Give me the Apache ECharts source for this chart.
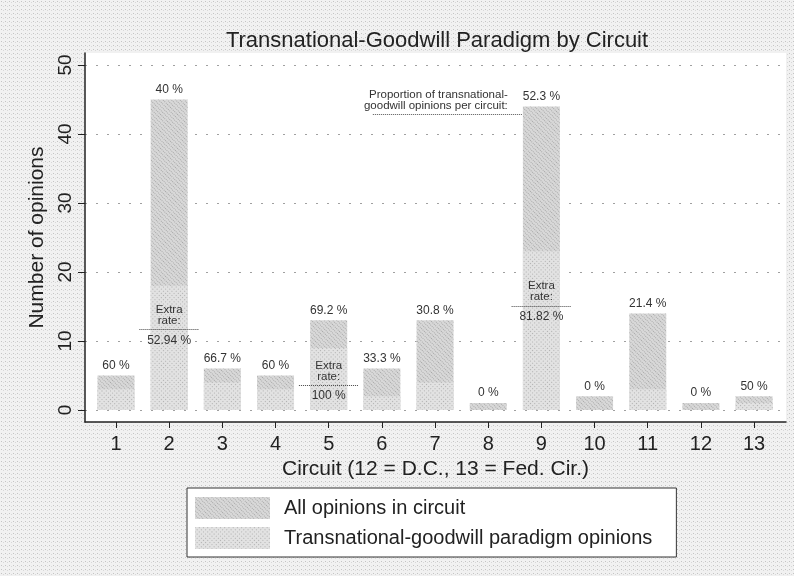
<!DOCTYPE html>
<html>
<head>
<meta charset="utf-8">
<script src="https://cdn.jsdelivr.net/npm/echarts@6/dist/echarts.min.js"></script>
<style>
html,body{margin:0;padding:0;background:#eeeeee;}
#chart{width:794px;height:576px;}
</style>
</head>
<body>
<div id="chart"></div>
<script>
// ---- data ----
const circuits = [1, 2, 3, 4, 5, 6, 7, 8, 9, 10, 11, 12, 13];
const totalOpinions = [5, 45, 6, 5, 13, 6, 13, 1, 44, 2, 14, 1, 2];
const tgOpinions = [3, 18, 4, 3, 9, 2, 4, 0, 23, 0, 3, 0, 1];
const proportionLabels = ['60 %', '40 %', '66.7 %', '60 %', '69.2 %', '33.3 %', '30.8 %', '0 %', '52.3 %', '0 %', '21.4 %', '0 %', '50 %'];
const yTickValues = [0, 10, 20, 30, 40, 50];
const xTickValues = [1, 2, 3, 4, 5, 6, 7, 8, 9, 10, 11, 12, 13];
const extraCircuits = [2, 5, 9];
const extraLineLevels = [11.7, 3.6, 15.1];
const extraRates = ['52.94 %', '100 %', '81.82 %'];
const noteLevel = 42.9;
const noteStartX = 5.83;
const noteTargetCircuit = 9;
const noteText = 'Proportion of transnational-\ngoodwill opinions per circuit:';
const seriesNames = ['All opinions in circuit', 'Transnational-goodwill paradigm opinions'];

// ---- styling helpers ----
const FONT = '"Liberation Sans", Arial, Helvetica, sans-serif';
const TXT = '#333';
const halfLine = 0.56;
const halfBar = 0.35;

function makeBgPattern() {
  const c = document.createElement('canvas');
  c.width = 4; c.height = 4;
  const g = c.getContext('2d');
  g.fillStyle = '#f1f1f1'; g.fillRect(0, 0, 4, 4);
  g.fillStyle = '#c4c4c4'; g.fillRect(1, 1, 1, 1);
  g.fillStyle = '#d8d8d8'; g.fillRect(3, 2, 1, 1);
  return c;
}

const chart = echarts.init(document.getElementById('chart'), null, {renderer: 'canvas'});

const extraLineData = [];
extraCircuits.forEach((c, i) => {
  extraLineData.push([
    {coord: [c - halfLine, extraLineLevels[i]],
     lineStyle: {color: '#444', width: 1, type: 'dotted'},
     label: {show: true, position: 'insideMiddleTop', formatter: 'Extra\nrate:', distance: 3,
             fontSize: 11.5, lineHeight: 11, color: TXT, fontFamily: FONT}},
    {coord: [c + halfLine, extraLineLevels[i]]}
  ]);
  extraLineData.push([
    {coord: [c - halfLine, extraLineLevels[i]],
     lineStyle: {color: 'rgba(0,0,0,0)', width: 1},
     label: {show: true, position: 'insideMiddleBottom', formatter: extraRates[i], distance: 5,
             fontSize: 12, color: TXT, fontFamily: FONT}},
    {coord: [c + halfLine, extraLineLevels[i]]}
  ]);
});
extraLineData.push([
  {coord: [noteStartX, noteLevel],
   lineStyle: {color: '#555', width: 1, type: 'dotted'},
   label: {show: true, position: 'insideEndTop', formatter: noteText, distance: 3,
           padding: [0, 12, 0, 0], align: 'right',
           fontSize: 11.5, lineHeight: 11, color: TXT, fontFamily: FONT}},
  {coord: [noteTargetCircuit - halfBar, noteLevel]}
]);

const gridLineData = yTickValues.map(v => ({yAxis: v}));

const option = {
  animation: false,
  backgroundColor: 'transparent',
  textStyle: {fontFamily: FONT, color: TXT},
  graphic: [{
    type: 'rect', z: -100, silent: true,
    shape: {x: 0, y: 0, width: 794, height: 576},
    style: {fill: {image: makeBgPattern(), repeat: 'repeat'}}
  }],
  title: {
    text: 'Transnational-Goodwill Paradigm by Circuit',
    left: 432, top: 25, textAlign: 'center',
    textStyle: {fontSize: 22, fontWeight: 'normal', color: '#222', fontFamily: FONT}
  },
  legend: {
    orient: 'vertical',
    left: 187, top: 488,
    padding: [9, 24, 8, 8],
    itemWidth: 75, itemHeight: 22, itemGap: 8,
    backgroundColor: '#ffffff',
    borderColor: '#333', borderWidth: 1,
    icon: 'rect',
    textStyle: {fontSize: 20, color: '#222', fontFamily: FONT, padding: [0, 0, 0, 9]},
    data: seriesNames
  },
  grid: {
    left: 85, right: 8, top: 53, bottom: 154,
    show: true, backgroundColor: '#ffffff', borderWidth: 0
  },
  xAxis: {
    type: 'value', min: 0.417, max: 13.6,
    name: 'Circuit (12 = D.C., 13 = Fed. Cir.)',
    nameLocation: 'middle', nameGap: 34,
    nameTextStyle: {fontSize: 21, color: '#222', fontFamily: FONT},
    axisLine: {show: true, onZero: false, lineStyle: {color: '#222', width: 1.5}},
    axisTick: {show: true, length: 6, customValues: xTickValues, lineStyle: {color: '#222', width: 1}},
    axisLabel: {customValues: xTickValues, margin: 12, fontSize: 20, color: '#222', fontFamily: FONT},
    splitLine: {show: false}
  },
  yAxis: {
    type: 'value', min: -1.74, max: 51.74,
    name: 'Number of opinions',
    nameLocation: 'middle', nameGap: 36, nameRotate: 90,
    nameTextStyle: {fontSize: 21, color: '#222', fontFamily: FONT},
    axisLine: {show: true, onZero: false, lineStyle: {color: '#222', width: 1.5}},
    axisTick: {show: true, length: 7, customValues: yTickValues, lineStyle: {color: '#222', width: 1}},
    axisLabel: {customValues: yTickValues, rotate: 90, margin: 10, fontSize: 19, color: '#222', fontFamily: FONT},
    splitLine: {show: false}
  },
  series: [
    {
      name: seriesNames[0],
      type: 'bar',
      barWidth: 37,
      barGap: '-100%',
      data: circuits.map((c, i) => [c, totalOpinions[i]]),
      itemStyle: {
        color: '#d8d8d8',
        decal: {symbol: 'rect', symbolSize: 1, dashArrayX: [1, 1], dashArrayY: [1, 2],
                rotation: 0.785, color: 'rgba(120,120,120,0.5)'}
      },
      label: {
        show: true, position: 'top', distance: 4,
        fontSize: 12, color: TXT, fontFamily: FONT,
        formatter: p => proportionLabels[p.dataIndex]
      },
      markLine: {
        silent: true, symbol: 'none',
        data: gridLineData,
        lineStyle: {color: '#a0a0a0', width: 1, type: [2, 9]},
        label: {show: false},
        z: 0
      },
      z: 2
    },
    {
      name: seriesNames[1],
      type: 'bar',
      barWidth: 37,
      barGap: '-100%',
      data: circuits.map((c, i) => [c, tgOpinions[i]]),
      itemStyle: {
        color: '#e2e2e2',
        decal: {symbol: 'rect', symbolSize: 1, dashArrayX: [1, 2], dashArrayY: [1, 2],
                rotation: 0.785, color: 'rgba(125,125,125,0.5)'}
      },
      markLine: {
        silent: true, symbol: 'none',
        data: extraLineData,
        label: {show: true}
      },
      z: 3
    }
  ]
};
chart.setOption(option);
</script>
</body>
</html>
